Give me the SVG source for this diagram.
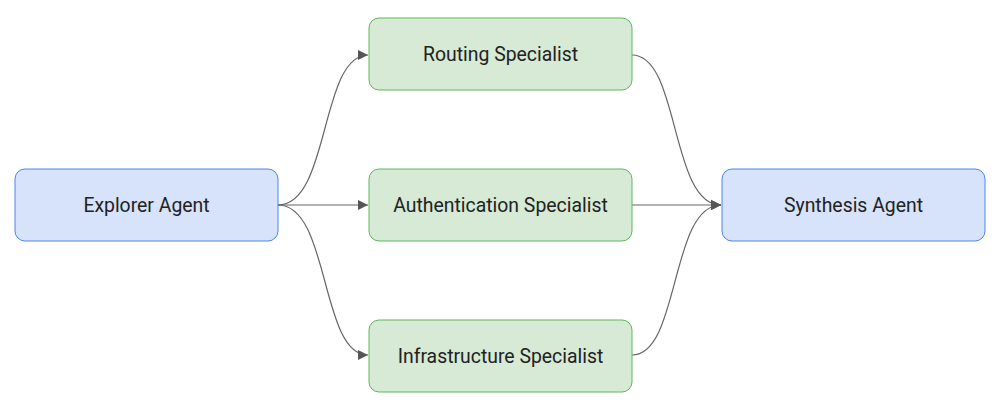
<svg xmlns="http://www.w3.org/2000/svg" width="1000" height="415" viewBox="0 0 1000 415">
<defs>
<marker id="ah" viewBox="0 0 10 10" refX="10" refY="5" markerWidth="10" markerHeight="10" markerUnits="userSpaceOnUse" orient="auto"><path d="M0,0L10,5L0,10z" fill="#555"/></marker>
<style>
.b{fill:#d6e3fb;stroke:#4a86e8;stroke-width:1}
.g{fill:#d6ead5;stroke:#5cb85c;stroke-width:1}
text{font-family:Roboto,"Liberation Sans",sans-serif;font-size:19.4px;fill:#222;text-anchor:middle;dominant-baseline:central}
.e{fill:none;stroke:#666;stroke-width:1.2;marker-end:url(#ah)}
</style>
</defs>
<rect width="1000" height="415" fill="#fff"/>
<g id="connectors">
<path class="e" d="M278,205C330,205 320,55 368,55"/>
<path class="e" d="M278,205L368,205"/>
<path class="e" d="M278,205C330,205 320,355 368,355"/>
<path class="e" d="M632,55C680,55 670,205 721,205"/>
<path class="e" d="M632,205L721,205"/>
<path class="e" d="M632,355C680,355 670,205 721,205"/>
</g>
<g id="explorer"><rect class="b" x="15" y="169" width="263" height="72" rx="10"/><text x="146.5" y="205">Explorer Agent</text></g>
<g id="routing"><rect class="g" x="369" y="18" width="263" height="72" rx="10"/><text x="500.5" y="54">Routing Specialist</text></g>
<g id="auth"><rect class="g" x="369" y="169" width="263" height="72" rx="10"/><text x="500.5" y="205">Authentication Specialist</text></g>
<g id="infra"><rect class="g" x="369" y="320" width="263" height="72" rx="10"/><text x="500.5" y="356">Infrastructure Specialist</text></g>
<g id="synthesis"><rect class="b" x="722" y="169" width="263" height="72" rx="10"/><text x="853.5" y="205">Synthesis Agent</text></g>
</svg>
